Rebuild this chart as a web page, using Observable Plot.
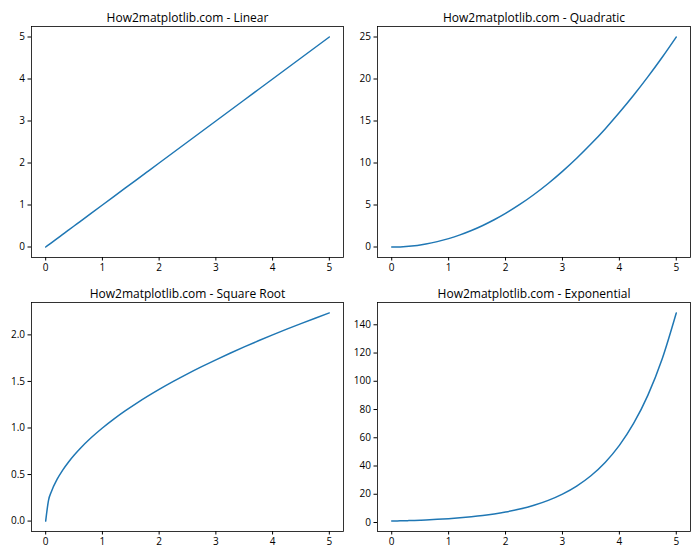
<!DOCTYPE html>
<html>
<head>
<meta charset="utf-8">
<script src="https://cdn.jsdelivr.net/npm/d3@7"></script>
<script src="https://cdn.jsdelivr.net/npm/@observablehq/plot@0.6"></script>
<style>
  html, body { margin: 0; padding: 0; background: white; }
  #wrap { position: relative; width: 700px; height: 560px; background: white; }
  #wrap > div { position: absolute; width: 350px; height: 280px; }
</style>
</head>
<body>
<div id="wrap">
  <div id="p0" style="left:0;top:0"></div>
  <div id="p1" style="left:350px;top:0"></div>
  <div id="p2" style="left:0;top:280px"></div>
  <div id="p3" style="left:350px;top:280px"></div>
</div>
<script>
// Data
const xs      = [0, 0.05, 0.1, 0.2, 0.3, 0.4, 0.5, 0.6, 0.8, 1.0, 1.2, 1.4, 1.6, 1.8, 2.0, 2.25, 2.5, 2.75, 3.0, 3.25, 3.5, 3.75, 4.0, 4.25, 4.5, 4.75, 5.0];
const linearY = [0, 0.05, 0.1, 0.2, 0.3, 0.4, 0.5, 0.6, 0.8, 1.0, 1.2, 1.4, 1.6, 1.8, 2.0, 2.25, 2.5, 2.75, 3.0, 3.25, 3.5, 3.75, 4.0, 4.25, 4.5, 4.75, 5.0];
const quadY   = [0, 0.0025, 0.01, 0.04, 0.09, 0.16, 0.25, 0.36, 0.64, 1.0, 1.44, 1.96, 2.56, 3.24, 4.0, 5.06, 6.25, 7.56, 9.0, 10.56, 12.25, 14.06, 16.0, 18.06, 20.25, 22.56, 25.0];
const sqrtY   = [0, 0.2236, 0.3162, 0.4472, 0.5477, 0.6325, 0.7071, 0.7746, 0.8944, 1.0, 1.0954, 1.1832, 1.2649, 1.3416, 1.4142, 1.5, 1.5811, 1.6583, 1.7321, 1.8028, 1.8708, 1.9365, 2.0, 2.0616, 2.1213, 2.1794, 2.2361];
const expY    = [1, 1.05, 1.11, 1.22, 1.35, 1.49, 1.65, 1.82, 2.23, 2.72, 3.32, 4.06, 4.95, 6.05, 7.39, 9.49, 12.18, 15.64, 20.09, 25.79, 33.12, 42.52, 54.6, 70.11, 90.02, 115.58, 148.41];

const titles  = ["How2matplotlib.com - Linear", "How2matplotlib.com - Quadratic", "How2matplotlib.com - Square Root", "How2matplotlib.com - Exponential"];
const xTicks  = [0, 1, 2, 3, 4, 5];
const linTicks  = [0, 1, 2, 3, 4, 5];
const quadTicks = [0, 5, 10, 15, 20, 25];
const sqrtTicks = [0, 0.5, 1.0, 1.5, 2.0];
const expTicks  = [0, 20, 40, 60, 80, 100, 120, 140];

const series = [
  {y: linearY, ticks: linTicks, fmt: d3.format("d")},
  {y: quadY,   ticks: quadTicks, fmt: d3.format("d")},
  {y: sqrtY,   ticks: sqrtTicks, fmt: d3.format(".1f")},
  {y: expY,    ticks: expTicks, fmt: d3.format("d")}
];

const layouts = [
  {ml: 31, mr: 7,  mt: 26, mb: 23},
  {ml: 27, mr: 10, mt: 26, mb: 23},
  {ml: 31, mr: 7,  mt: 22, mb: 29},
  {ml: 27, mr: 10, mt: 22, mb: 29}
];

function pad(ext) {
  const m = (ext[1] - ext[0]) * 0.05;
  return [ext[0] - m, ext[1] + m];
}

series.forEach((s, i) => {
  const L = layouts[i];
  const rows = xs.map((x, k) => ({x, y: s.y[k]}));
  const chart = Plot.plot({
    width: 350,
    height: 280,
    marginLeft: L.ml,
    marginRight: L.mr,
    marginTop: L.mt,
    marginBottom: L.mb,
    style: {fontFamily: "'Open Sans', 'DejaVu Sans', sans-serif", fontSize: "10px", color: "black", background: "white", overflow: "visible"},
    x: {domain: pad(d3.extent(xs)), axis: null},
    y: {domain: pad(d3.extent(s.y)), axis: null},
    marks: [
      Plot.axisX({ticks: xTicks, tickSize: 3.5, tickPadding: 3, tickFormat: d3.format("d"), label: null, fontSize: 10, stroke: "black"}),
      Plot.axisY({ticks: s.ticks, tickSize: 3.5, tickPadding: 3, tickFormat: s.fmt, label: null, fontSize: 10, stroke: "black"}),
      Plot.line(rows, {x: "x", y: "y", stroke: "#1f77b4", strokeWidth: 1.5, curve: "monotone-x"}),
      Plot.frame({stroke: "black", strokeWidth: 0.8}),
      Plot.text([titles[i]], {frameAnchor: "top", lineAnchor: "bottom", dy: -5, fontSize: 12, fill: "black"})
    ]
  });
  document.getElementById("p" + i).appendChild(chart);
});
</script>
</body>
</html>
